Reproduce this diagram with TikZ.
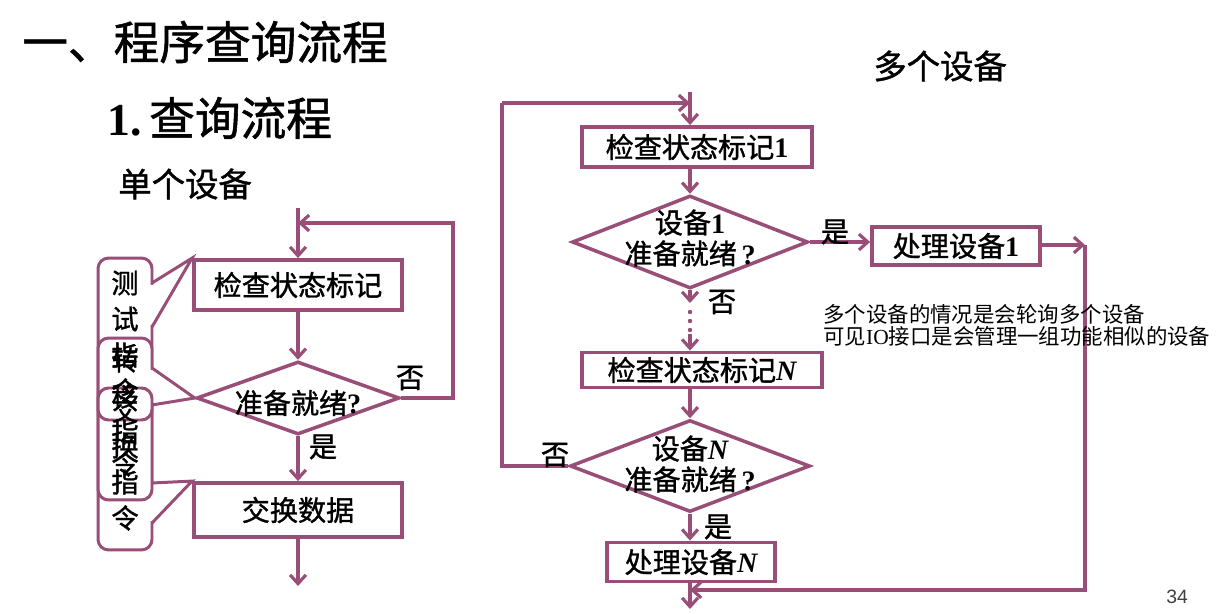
\documentclass[tikz,border=0pt]{standalone}
\usepackage{fontspec}
\setmainfont{Liberation Serif}
\setsansfont{Liberation Sans}
\newfontfamily\cjk{Noto Sans CJK SC}
\newfontfamily\cjkm{Noto Sans CJK SC}[FakeBold=1.2]
\usetikzlibrary{shapes.geometric,arrows.meta}
\definecolor{pl}{RGB}{152,78,118}
\newcommand\lat[1]{{\rmfamily\bfseries #1}}
\newcommand\latit[1]{{\rmfamily\bfseries\itshape #1}}
\begin{document}
\begin{tikzpicture}[x=0.02cm,y=-0.02cm,
  box/.style={draw=pl, line width=2.2pt, fill=white, inner sep=0pt, font=\fontsize{16}{18}\selectfont\cjkm},
  dia/.style={diamond, draw=pl, line width=2pt, inner sep=0pt},
  dtxt/.style={align=center, inner sep=0pt, font=\fontsize{16}{17.6}\selectfont\cjkm},
  lab/.style={inner sep=0pt, font=\fontsize{16}{18}\selectfont\cjkm},
  ln/.style={draw=pl, line width=1.8pt},
  arr/.style={draw=pl, line width=1.8pt, -{Straight Barb[length=5pt,width=9pt,line width=1.8pt]}},
  call/.style={draw=pl, line width=1.7pt, rounded corners=6pt, fill=white, minimum width=1.08cm, inner sep=0pt},
  ctxt/.style={inner sep=0pt, font=\fontsize{15.5}{17}\selectfont\cjkm},
  ttl/.style={inner sep=0pt, anchor=west}
]
\useasboundingbox (0,0) rectangle (1219,614);

% ---- titles ----
\node[ttl, font=\fontsize{26}{28}\selectfont\cjkm] (t1) at (22,42) {一、程序查询流程};
\node[ttl, font=\fontsize{26}{28}\selectfont\cjkm] (t2) at (107,118) {\lat{1.}\,查询流程};
\node[ttl, font=\fontsize{19}{21}\selectfont\cjkm] (t3) at (118,184) {单个设备};
\node[ttl, font=\fontsize{19}{21}\selectfont\cjkm] (t4) at (873,66) {多个设备};

% ---- left flowchart ----
\node[box, minimum width=4.16cm, minimum height=1.0cm] (bL1) at (298,285) {检查状态标记};
\node[dia, minimum width=4.06cm, minimum height=1.46cm] (dL) at (298,398) {};
\node[dtxt] (dLt) at (298,403) {准备就绪\lat{?}};
\node[box, minimum width=4.16cm, minimum height=1.08cm] (bL2) at (298,510) {交换数据};
\coordinate (sL) at (298,208);
\coordinate (jL) at (298,223);
\coordinate (cL1) at (453,398);
\coordinate (cL2) at (453,223);
\coordinate (eL) at (298,586);

\draw[arr] (sL) -- (bL1.north);
\draw[arr] (bL1.south) -- (dL.north);
\draw[arr] (dL.south) -- (bL2.north);
\draw[arr] (bL2.south) -- (eL);
\draw[arr] (dL.east) -- (cL1) -- (cL2) -- (jL);
\node[lab] (nL) at (410,378) {否};
\node[lab] (yL) at (323,447) {是};

% ---- callouts ----
\node[call, minimum height=5.84cm] (cA) at (125,404) {};
\fill[white] (150,285) -- (154,285) -- (bL1.north west) -- (154,325) -- (150,325) -- cycle;
\draw[ln, line width=1.7pt] (152,283) -- (bL1.north west) -- (152,327);
\fill[white] (150,485) -- (154,485) -- (bL2.north west) -- (154,521) -- (150,521) -- cycle;
\draw[ln, line width=1.7pt] (152,483) -- (bL2.north west) -- (152,523);
\node[call, minimum height=3.24cm] (cB) at (125,419) {};
\fill[white] (150,370) -- (154,370) -- (dL.west) -- (154,403) -- (150,403) -- cycle;
\draw[ln, line width=1.7pt] (152,368) -- (dL.west) -- (152,405);
\node[call, minimum height=0.64cm] (cC) at (125,404) {};

\node[ctxt] (a1) at (125,283) {测};
\node[ctxt] (a2) at (125,319) {试};
\node[ctxt] (a3) at (125,355) {指};
\node[ctxt] (a4) at (125,391) {令};
\node[ctxt] (b1) at (125,360) {转};
\node[ctxt] (b2) at (125,396) {移};
\node[ctxt] (b3) at (125,432) {指};
\node[ctxt] (b4) at (125,464) {令};
\node[ctxt] (c1) at (125,410) {交};
\node[ctxt] (c2) at (125,446) {换};
\node[ctxt] (c3) at (125,482) {指};
\node[ctxt] (c4) at (125,518) {令};

% ---- right flowchart ----
\node[box, minimum width=4.6cm, minimum height=0.8cm] (bR1) at (697,147) {检查状态标记\lat{1}};
\node[dia, minimum width=4.72cm, minimum height=1.86cm] (dR1) at (690,242) {};
\node[dtxt] (dR1t) at (690,238) {设备\lat{1}\\准备就绪\lat{\,?}};
\node[box, minimum width=3.36cm, minimum height=0.76cm] (bR2) at (956,246) {处理设备\lat{1}};
\node[box, minimum width=4.8cm, minimum height=0.7cm] (bRN) at (702,370) {检查状态标记\latit{N}};
\node[dia, minimum width=4.8cm, minimum height=1.84cm] (dRN) at (690,466) {};
\node[dtxt] (dRNt) at (690,464) {设备\latit{N}\\准备就绪\lat{\,?}};
\node[box, minimum width=3.36cm, minimum height=0.78cm] (bR3) at (691,562) {处理设备\latit{N}};

\coordinate (sR) at (690,92);
\coordinate (jR) at (690,103);
\coordinate (cR1) at (502,466);
\coordinate (cR2) at (502,103);
\coordinate (mR1) at (690,303);
\coordinate (mR2) at (690,334);
\coordinate (rR1) at (1085,245);
\coordinate (rR2) at (1085,590);
\coordinate (rR3) at (690,590);
\coordinate (eR) at (690,609);

\draw[arr] (sR) -- (sR |- bR1.north);
\draw[arr] (cR2) -- (jR);
\draw[ln] (dRN.west) -- (cR1) -- (cR2);
\draw[arr] (dR1.north |- bR1.south) -- (dR1.north);
\draw[arr] (dR1.south) -- (mR1);
\foreach \yy [count=\i] in {312,321,330} \fill[pl] (690,\yy) circle (2.2);
\draw[arr] (mR2) -- (mR2 |- bRN.north);
\draw[arr] (dR1.east) -- (dR1.east -| bR2.west);
\draw[arr] (bR2.east |- rR1) -- (rR1);
\draw[arr] (rR1) -- (rR2) -- (rR3);
\draw[arr] (dRN.north |- bRN.south) -- (dRN.north);
\draw[arr] (dRN.south) -- (dRN.south |- bR3.north);
\draw[arr] (dRN.south |- bR3.south) -- (eR);

\node[lab] (yR1) at (835,232) {是};
\node[lab] (nR1) at (722,302) {否};
\node[lab] (nRN) at (555,455) {否};
\node[lab] (yRN) at (718,527) {是};

\node[anchor=north west, align=left, inner sep=0pt, font=\fontsize{12.2}{12.5}\selectfont\cjk] (note) at (823,304)
  {多个设备的情况是会轮询多个设备\\可见{\rmfamily IO}接口是会管理一组功能相似的设备};

\node[inner sep=0pt, font=\fontsize{11}{12}\selectfont\sffamily, text=black!75] (pg) at (1177,597) {34};
\end{tikzpicture}
\end{document}
